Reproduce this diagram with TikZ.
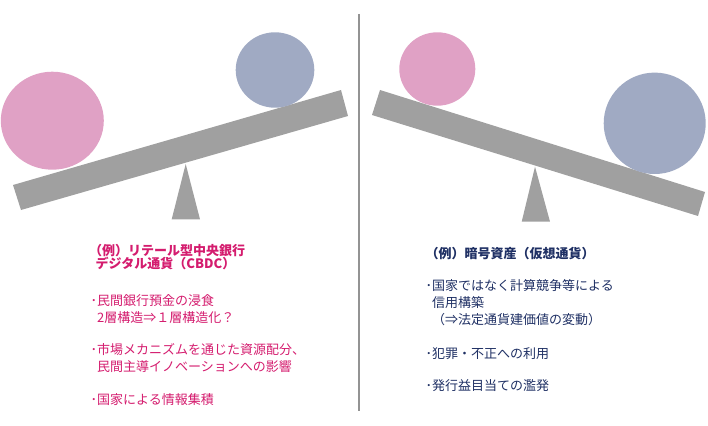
\documentclass[tikz,border=0pt]{standalone}
\usepackage{fontspec}
\newfontfamily\jp{Noto Sans CJK JP}
\usepackage{xcolor}
\usetikzlibrary{positioning}

\definecolor{ballpink}{HTML}{E0A1C5}
\definecolor{ballblue}{HTML}{A0AAC3}
\definecolor{beamgray}{HTML}{A0A0A0}
\definecolor{cbdcred}{HTML}{D41C6E}
\definecolor{cryptonavy}{HTML}{1F3064}

\newcommand\bul{･}
\newcommand\ind{\hspace*{.5em}}

\begin{document}
\begin{tikzpicture}[
    x=1pt,y=-1pt,
    beam/.style={fill=beamgray},
    title/.style={anchor=west,inner sep=0pt,align=left,font={\jp\bfseries\fontsize{13}{13.7}\selectfont}},
    item/.style={anchor=west,inner sep=0pt,align=left,font={\jp\fontsize{13}{17}\selectfont}},
    cbdc/.style={text=cbdcred},
    crypto/.style={text=cryptonavy}
]
\useasboundingbox (0,0) rectangle (708,425);

% left seesaw
\fill[beam] (13,185) -- (341,90) -- (348,116) -- (21,210) -- cycle;
\fill[beam] (185.7,164) -- (200,219.3) -- (171.7,219.3) -- cycle;
\fill[ballpink] (52.3,120.7) ellipse [x radius=51.5,y radius=49];
\fill[ballblue] (275,70) ellipse [x radius=39.3,y radius=37.7];

% right seesaw
\fill[beam] (380,90) -- (705,192) -- (698,216) -- (372,115) -- cycle;
\fill[beam] (535,166.7) -- (550,221.7) -- (521.7,221.7) -- cycle;
\fill[ballpink] (437.3,69) ellipse [x radius=38,y radius=36.7];
\fill[ballblue] (654.7,123.3) ellipse [x radius=51,y radius=50.7];

% divider
\draw[color=gray!85,line width=1.3pt] (359,14) -- (359,411);

% left texts
\node[title,cbdc] (cbdctitle) at (89,257) {（例）リテール型中央銀行\\\ind デジタル通貨（CBDC）};
\node[item,cbdc] (deposit) at (90.5,308.8) {\bul 民間銀行預金の浸食\\\ind 2層構造⇒１層構造化？};
\node[item,cbdc] (market) at (90.5,357.7) {\bul 市場メカニズムを通じた資源配分、\\\ind 民間主導イノベーションへの影響};
\node[item,cbdc] (info) at (90.5,400) {\bul 国家による情報集積};

% right texts
\node[title,crypto] (cryptotitle) at (425.5,253.3) {（例）暗号資産（仮想通貨）};
\node[item,crypto] (trust) at (425.5,303) {\bul 国家ではなく計算競争等による\\\ind 信用構築\\\ind （⇒法定通貨建価値の変動）};
\node[item,crypto] (crime) at (425.5,354) {\bul 犯罪・不正への利用};
\node[item,crypto] (issue) at (425.5,385.7) {\bul 発行益目当ての濫発};
\end{tikzpicture}
\end{document}
